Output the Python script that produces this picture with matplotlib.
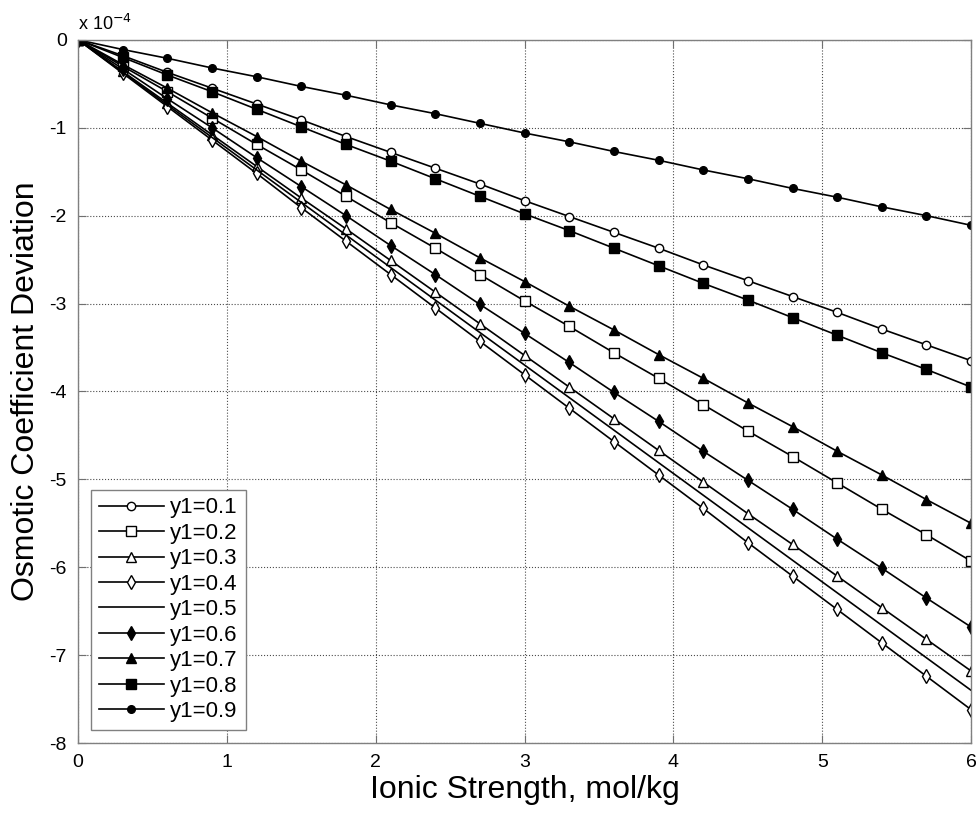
import matplotlib
matplotlib.use("Agg")
import matplotlib.pyplot as plt
import numpy as np

plt.rcParams['font.family'] = ['Liberation Sans', 'DejaVu Sans']
plt.rcParams['axes.unicode_minus'] = False

ionic = [0.0, 0.3, 0.6, 0.9, 1.2, 1.5, 1.8, 2.1, 2.4, 2.7, 3.0,
         3.3, 3.6, 3.9, 4.2, 4.5, 4.8, 5.1, 5.4, 5.7, 6.0]

# osmotic coefficient deviation, units of 1e-4
dev_01 = [0, -0.18, -0.37, -0.55, -0.73, -0.91, -1.10, -1.28, -1.46, -1.64, -1.83,
          -2.01, -2.19, -2.37, -2.56, -2.74, -2.92, -3.10, -3.29, -3.47, -3.65]
dev_02 = [0, -0.30, -0.59, -0.89, -1.19, -1.48, -1.78, -2.08, -2.37, -2.67, -2.97,
          -3.26, -3.56, -3.85, -4.15, -4.45, -4.74, -5.04, -5.34, -5.63, -5.93]
dev_03 = [0, -0.36, -0.72, -1.08, -1.44, -1.80, -2.15, -2.51, -2.87, -3.23, -3.59,
          -3.95, -4.31, -4.67, -5.03, -5.39, -5.74, -6.10, -6.46, -6.82, -7.18]
dev_04 = [0, -0.38, -0.76, -1.14, -1.52, -1.91, -2.29, -2.67, -3.05, -3.43, -3.81,
          -4.19, -4.57, -4.95, -5.33, -5.72, -6.10, -6.48, -6.86, -7.24, -7.62]
dev_05 = [0, -0.37, -0.74, -1.11, -1.48, -1.85, -2.22, -2.59, -2.96, -3.33, -3.70,
          -4.07, -4.44, -4.81, -5.18, -5.55, -5.92, -6.29, -6.66, -7.03, -7.40]
dev_06 = [0, -0.33, -0.67, -1.00, -1.34, -1.67, -2.00, -2.34, -2.67, -3.01, -3.34,
          -3.67, -4.01, -4.34, -4.68, -5.01, -5.34, -5.68, -6.01, -6.35, -6.68]
dev_07 = [0, -0.28, -0.55, -0.83, -1.10, -1.38, -1.65, -1.93, -2.20, -2.48, -2.75,
          -3.03, -3.30, -3.58, -3.85, -4.13, -4.40, -4.68, -4.95, -5.23, -5.50]
dev_08 = [0, -0.20, -0.40, -0.59, -0.79, -0.99, -1.19, -1.38, -1.58, -1.78, -1.98,
          -2.17, -2.37, -2.57, -2.77, -2.96, -3.16, -3.36, -3.56, -3.75, -3.95]
dev_09 = [0, -0.11, -0.21, -0.32, -0.42, -0.53, -0.63, -0.74, -0.84, -0.95, -1.06,
          -1.16, -1.27, -1.37, -1.48, -1.58, -1.69, -1.79, -1.90, -2.00, -2.11]

labels = ['y1=0.1', 'y1=0.2', 'y1=0.3', 'y1=0.4', 'y1=0.5',
          'y1=0.6', 'y1=0.7', 'y1=0.8', 'y1=0.9']
series = [dev_01, dev_02, dev_03, dev_04, dev_05, dev_06, dev_07, dev_08, dev_09]
styles = [('o', 'white', 6), ('s', 'white', 7), ('^', 'white', 7), ('d', 'white', 7),
          (None, 'black', 0), ('d', 'black', 7), ('^', 'black', 7), ('s', 'black', 7),
          ('o', 'black', 5.5)]

fig = plt.figure(figsize=(9.76, 8.13), dpi=100)
ax = fig.add_axes([0.08, 0.086, 0.915, 0.865])

for y, lab, (m, fc, ms) in zip(series, labels, styles):
    ax.plot(ionic, y, color='black', lw=1.2, marker=m, markersize=ms,
            markerfacecolor=fc, markeredgecolor='black', markeredgewidth=1.0,
            label=lab)

ax.set_xlim(0, 6)
ax.set_ylim(-8, 0)
ax.set_xticks(range(0, 7))
ax.set_yticks(range(-8, 1))
ax.grid(True, linestyle=':', color='black', linewidth=0.8, alpha=0.7)
ax.tick_params(direction='in', length=6, labelsize=14, color='#707070', pad=8)
ax.tick_params(top=True, right=True)
for s in ax.spines.values():
    s.set_color('#808080')
    s.set_linewidth(1.0)

ax.set_xlabel('Ionic Strength, mol/kg', fontsize=23, labelpad=3)
ax.set_ylabel('Osmotic Coefficient Deviation', fontsize=23, labelpad=6)
ax.text(0.0, 1.008, r'x 10$^{-4}$', transform=ax.transAxes, fontsize=13,
        ha='left', va='bottom')

leg = ax.legend(loc='lower left', fontsize=16, handlelength=2.9,
                borderaxespad=0.6, fancybox=False, framealpha=1,
                edgecolor='#808080', labelspacing=0.2, handletextpad=0.3,
                borderpad=0.35)
leg.get_frame().set_linewidth(1.0)

plt.savefig('out.png', dpi=100)
